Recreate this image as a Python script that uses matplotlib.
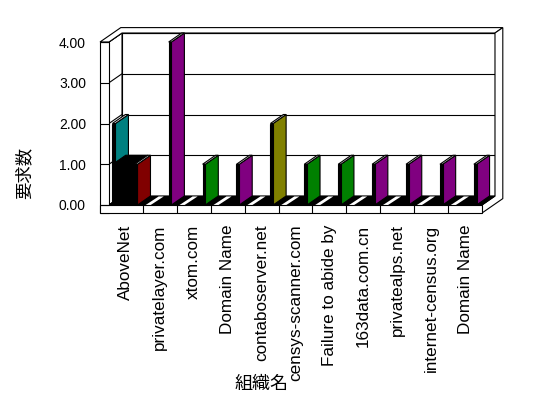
import numpy as np
import matplotlib
matplotlib.use("Agg")
import matplotlib.pyplot as plt
from matplotlib.patches import Polygon

# ---------------- data ----------------
categories = ["AboveNet", "privatelayer.com", "xtom.com", "Domain Name",
              "contaboserver.net", "censys-scanner.com", "Failure to abide by",
              "163data.com.cn", "privatealps.net", "internet-census.org",
              "Domain Name"]
series_front = [1, 4, 1, 1, 2, 1, 1, 1, 1, 1, 1]
series_front_colors = ["#800000", "#800080", "#008000", "#800080", "#808000",
                       "#008000", "#008000", "#800080", "#800080", "#800080",
                       "#800080"]
series_teal = [2, 0, 0, 0, 0, 0, 0, 0, 0, 0, 0]
series_black = [1, 0, 0, 0, 0, 0, 0, 0, 0, 0, 0]
y_ticks = [0, 1, 2, 3, 4]
y_ticklabels = ["0.00", "1.00", "2.00", "3.00", "4.00"]
x_title = "組織名"
y_title = "要求数"

plt.rcParams["font.family"] = ["Liberation Sans", "Noto Sans CJK JP", "DejaVu Sans"]

W, H = 548, 398
fig = plt.figure(figsize=(W / 100, H / 100), dpi=100)
fig.patch.set_facecolor("white")

n = len(categories)
ymax = max(y_ticks)
ax = fig.add_axes([109 / W, (H - 205) / H, 373 / W, 163 / H])
ax.set_xlim(0, n)
ax.set_ylim(0, ymax)
ax.set_facecolor("none")
for s in ax.spines.values():
    s.set_visible(False)

# pixel-based sizes converted to data units
px_x = 373 / n          # px per category
px_y = 163 / ymax       # px per value unit
DX, DY = 13 / px_x, 9 / px_y          # depth vector
WT = 9 / px_x                          # left wall thickness
FT = 8 / px_y                          # floor thickness
BT = 1.6                               # outer depth of back wall
LW = 0.8


def P(x, y, d):
    return (x + d * DX, y + d * DY)


def poly(pts, fc, ec="black", lw=LW, z=1):
    ax.add_patch(Polygon(pts, closed=True, facecolor=fc, edgecolor=ec,
                         linewidth=lw, clip_on=False, zorder=z, joinstyle="miter"))


def line(p, q, z=2, lw=LW):
    ax.plot([p[0], q[0]], [p[1], q[1]], color="black", lw=lw, clip_on=False,
            zorder=z, solid_capstyle="butt")


# back wall inner face
poly([P(0, 0, 1), P(n, 0, 1), P(n, ymax, 1), P(0, ymax, 1)], "white", z=1)
# left wall inner face
poly([P(0, 0, 0), P(0, 0, 1), P(0, ymax, 1), P(0, ymax, 0)], "white", z=1)
for v in y_ticks:
    line(P(0, v, 1), P(n, v, 1), z=1.5)
    line(P(0, v, 0), P(0, v, 1), z=1.5)
# top of walls
poly([P(-WT, ymax, 0), P(0, ymax, 0), P(0, ymax, 1), P(n, ymax, 1),
      P(n, ymax, BT), P(-WT, ymax, BT)], "white", z=1.6)
# right end face
poly([P(n, -FT, 0), P(n, 0, 0), P(n, 0, 1), P(n, ymax, 1),
      P(n, ymax, BT), P(n, -FT, BT)], "white", z=1.6)
# floor top
poly([P(0, 0, 0), P(n, 0, 0), P(n, 0, 1), P(0, 0, 1)], "black", z=1.7)
# left wall front face + ticks
poly([P(-WT, -FT, 0), P(0, -FT, 0), P(0, ymax, 0), P(-WT, ymax, 0)], "white", z=5)
for v in y_ticks:
    line(P(-WT, v, 0), P(0, v, 0), z=5.1)
# floor front face + separators
poly([P(-WT, -FT, 0), P(n, -FT, 0), P(n, 0, 0), P(-WT, 0, 0)], "white", z=5)
for i in range(1, n):
    line(P(i, -FT, 0), P(i, 0, 0), z=5.1)


def slab(x0, w, v, color, z):
    if v <= 0:
        poly([P(x0 - 0.02, 0, 0), P(x0 + w + 0.04, 0, 0), P(x0 + w + 0.06, 0, 0.95),
              P(x0, 0, 0.95)], "white", ec="none", lw=0, z=z)
        return
    poly([P(x0 + w, 0, 0), P(x0 + w, 0, 1), P(x0 + w, v, 1), P(x0 + w, v, 0)], color, z=z)
    poly([P(x0, v, 0), P(x0 + w, v, 0), P(x0 + w, v, 1), P(x0, v, 1)], "white", z=z)
    poly([P(x0, 0, 0), P(x0 + w, 0, 0), P(x0 + w, v, 0), P(x0, v, 0)], "black", z=z)


def box(x0, x1, v, z):
    if v <= 0:
        return
    poly([P(x0, v, 0), P(x1, v, 0), P(x1, v, 1), P(x0, v, 1)], "black", z=z)
    poly([P(x0, 0, 0), P(x1, 0, 0), P(x1, v, 0), P(x0, v, 0)], "black", z=z)


for i in range(n):
    z = 2 + i * 0.1
    slab(i + 0.1, 0.09, series_teal[i], "#008080", z)
    box(i + 0.11, i + 0.76, series_black[i], z + 0.01)
    slab(i + 0.76, 0.08, series_front[i], series_front_colors[i], z + 0.02)

# ticks / labels via axes
ax.set_yticks(y_ticks)
ax.set_yticklabels(y_ticklabels, fontsize=10)
ax.set_xticks(np.arange(n) + 0.5)
ax.set_xticklabels(categories, rotation=90, fontsize=12.3)
ax.tick_params(axis="y", length=0, pad=16.6)
ax.tick_params(axis="x", length=0, pad=14.0)

fig.text(24 / W, 1 - 173 / H, y_title, rotation=90, ha="center", va="center",
         fontsize=12.5)
fig.text(262 / W, 1 - 384 / H, x_title, ha="center", va="center", fontsize=13)

fig.savefig("out.png", dpi=100, facecolor="white")
